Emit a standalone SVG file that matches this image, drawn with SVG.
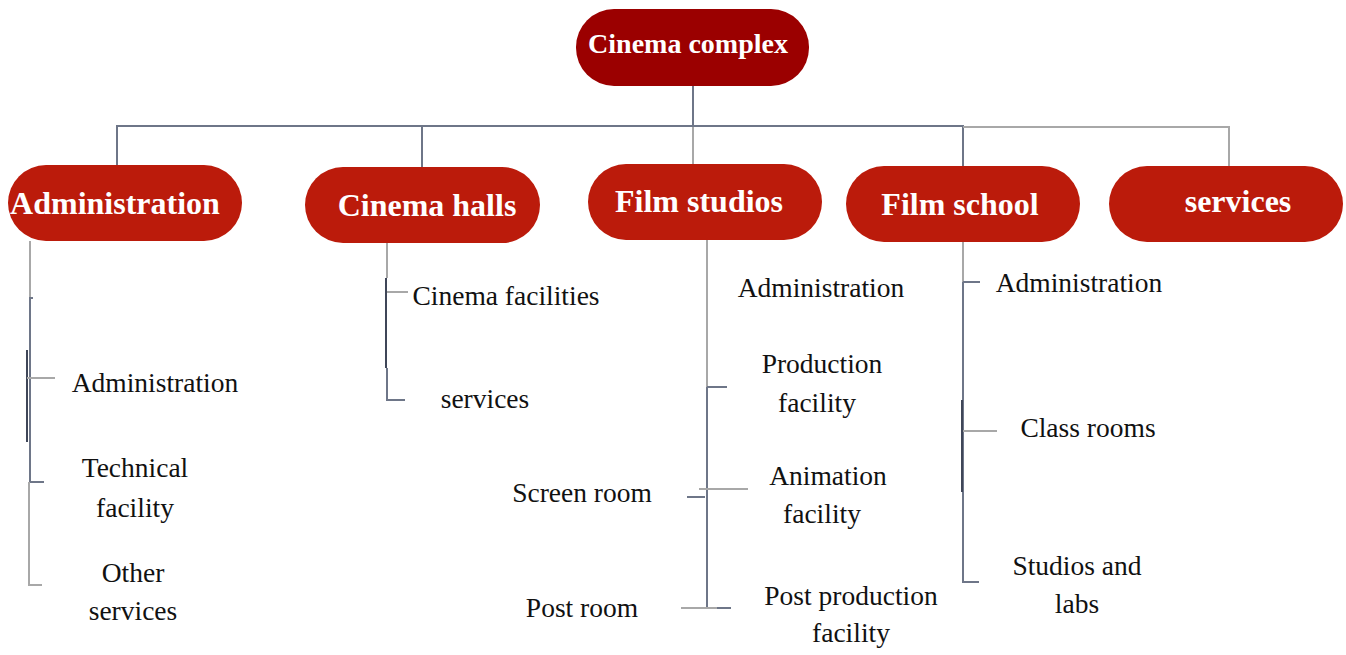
<svg xmlns="http://www.w3.org/2000/svg" width="1346" height="655" viewBox="0 0 1346 655">
<style>
.root{fill:#9b0000}
.box{fill:#bb1b0b}
.nt{font-family:"Liberation Serif",serif;font-weight:bold;fill:#ffffff;text-anchor:middle}
.lt{font-family:"Liberation Serif",serif;font-size:27.5px;fill:#111111;text-anchor:middle}
.lg{stroke:#a8a8a8;stroke-width:2;fill:none}
.dk{stroke:#6e7688;stroke-width:2;fill:none}
.dd{stroke:#3f4658;stroke-width:2;fill:none}
</style>
<rect width="1346" height="655" fill="#ffffff"/>
<g id="connectors">
  <line class="dk" x1="693" y1="86" x2="693" y2="127"/>
  <line class="lg" x1="693" y1="127" x2="693" y2="165"/>
  <polyline class="dk" points="117,165 117,126 963,126 963,166"/>
  <polyline class="lg" points="963,127 1229,127 1229,166"/>
  <line class="dk" x1="422" y1="126" x2="422" y2="167"/>
  <!-- Administration branch -->
  <line class="lg" x1="30" y1="241" x2="30" y2="298"/>
  <polyline class="dk" points="33,298 30,298 30,482 44,482"/>
  <line class="dd" x1="27" y1="350" x2="27" y2="442"/>
  <line class="lg" x1="27" y1="378" x2="55" y2="378"/>
  <polyline class="lg" points="29,482 29,585 42,585"/>
  <!-- Cinema halls branch -->
  <line class="lg" x1="387" y1="243" x2="387" y2="278"/>
  <line class="dd" x1="386" y1="278" x2="386" y2="368"/>
  <polyline class="dk" points="387,368 387,400 405,400"/>
  <line class="lg" x1="387" y1="292" x2="408" y2="292"/>
  <!-- Film studios branch -->
  <line class="lg" x1="707" y1="240" x2="707" y2="387"/>
  <line class="dk" x1="707" y1="387" x2="727" y2="387"/>
  <line class="dk" x1="707" y1="387" x2="707" y2="608"/>
  <line class="lg" x1="699" y1="489" x2="748" y2="489"/>
  <line class="dk" x1="687" y1="497" x2="705" y2="497"/>
  <line class="lg" x1="681" y1="608" x2="717" y2="608"/>
  <line class="dk" x1="717" y1="608" x2="731" y2="608"/>
  <!-- Film school branch -->
  <line class="lg" x1="963" y1="242" x2="963" y2="282"/>
  <line class="dk" x1="963" y1="282" x2="980" y2="282"/>
  <polyline class="dk" points="963,282 963,582 979,582"/>
  <line class="dd" x1="962" y1="400" x2="962" y2="492"/>
  <line class="lg" x1="963" y1="431" x2="997" y2="431"/>
</g>
<g id="cinema-complex">
  <rect class="root" x="576" y="9" width="233" height="77" rx="38"/>
  <text class="nt" x="688" y="53" font-size="28">Cinema complex</text>
</g>
<g id="administration">
  <rect class="box" x="8" y="165" width="234" height="76" rx="38"/>
  <text class="nt" x="115" y="214" font-size="32">Administration</text>
</g>
<g id="cinema-halls">
  <rect class="box" x="305" y="167" width="235" height="76" rx="38"/>
  <text class="nt" x="427" y="216" font-size="32">Cinema halls</text>
</g>
<g id="film-studios">
  <rect class="box" x="588" y="164" width="234" height="76" rx="38"/>
  <text class="nt" x="699" y="212" font-size="32">Film studios</text>
</g>
<g id="film-school">
  <rect class="box" x="846" y="166" width="234" height="76" rx="38"/>
  <text class="nt" x="960" y="215" font-size="32">Film school</text>
</g>
<g id="services">
  <rect class="box" x="1109" y="166" width="234" height="76" rx="38"/>
  <text class="nt" x="1238" y="212" font-size="32">services</text>
</g>
<g id="admin-children">
  <text class="lt" x="155" y="392">Administration</text>
  <text class="lt" x="135" y="477">Technical</text>
  <text class="lt" x="135" y="517">facility</text>
  <text class="lt" x="133" y="582">Other</text>
  <text class="lt" x="133" y="620">services</text>
</g>
<g id="halls-children">
  <text class="lt" x="506" y="305">Cinema facilities</text>
  <text class="lt" x="485" y="408">services</text>
</g>
<g id="studios-children">
  <text class="lt" x="821" y="297">Administration</text>
  <text class="lt" x="822" y="373">Production</text>
  <text class="lt" x="817" y="412">facility</text>
  <text class="lt" x="828" y="485">Animation</text>
  <text class="lt" x="822" y="523">facility</text>
  <text class="lt" x="582" y="502">Screen room</text>
  <text class="lt" x="582" y="617">Post room</text>
  <text class="lt" x="851" y="605">Post production</text>
  <text class="lt" x="851" y="642">facility</text>
</g>
<g id="school-children">
  <text class="lt" x="1079" y="292">Administration</text>
  <text class="lt" x="1088" y="437">Class rooms</text>
  <text class="lt" x="1077" y="575">Studios and</text>
  <text class="lt" x="1077" y="613">labs</text>
</g>
</svg>
